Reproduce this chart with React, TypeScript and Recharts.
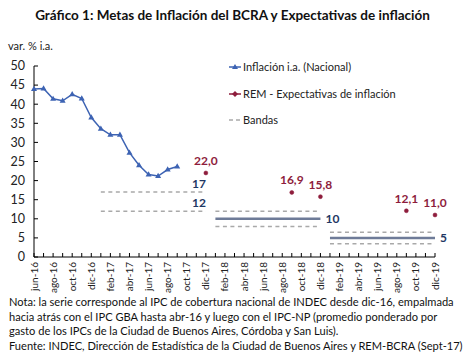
import { ComposedChart, Line, XAxis, YAxis, LabelList } from "recharts";

const months = [
  "jun-16", "jul-16", "ago-16", "sep-16", "oct-16", "nov-16", "dic-16",
  "ene-17", "feb-17", "mar-17", "abr-17", "may-17", "jun-17", "jul-17", "ago-17", "sep-17", "oct-17", "nov-17", "dic-17",
  "ene-18", "feb-18", "mar-18", "abr-18", "may-18", "jun-18", "jul-18", "ago-18", "sep-18", "oct-18", "nov-18", "dic-18",
  "ene-19", "feb-19", "mar-19", "abr-19", "may-19", "jun-19", "jul-19", "ago-19", "sep-19", "oct-19", "nov-19", "dic-19",
];

// inflación i.a. nacional, jun-16 .. sep-17
const inflation = [44.0, 44.1, 41.4, 40.9, 42.6, 41.5, 36.5, 33.6, 32.0, 32.0, 27.3, 24.0, 21.6, 21.2, 22.9, 23.7];

const remMonths = ["dic-17", "sep-18", "dic-18", "sep-19", "dic-19"];
const remValues = [22.0, 16.9, 15.8, 12.1, 11.0];

const bandYears = ["17", "18", "19"];
const bandLow = [12, 8, 3.5];
const bandHigh = [17, 12, 6.5];
const bandMid = [null, 10, 5];

const yTicks = [0, 5, 10, 15, 20, 25, 30, 35, 40, 45, 50];

const BLUE = "#3d63b3";
const RED = "#8e1d3c";
const NAVY = "#1f3864";
const BAND = "#a9a9a9";
const MID = "#6e7b98";

const data = months.map((m, i) => {
  const row: Record<string, any> = { month: m, inflation: i < inflation.length ? inflation[i] : null };
  const r = remMonths.indexOf(m);
  row.rem = r >= 0 ? remValues[r] : null;
  bandYears.forEach((yr, k) => {
    if (m.endsWith("-" + yr)) {
      row["lo" + k] = bandLow[k];
      row["hi" + k] = bandHigh[k];
      if (bandMid[k] != null) row["mid" + k] = bandMid[k];
    }
  });
  return row;
});

const lastIdx = bandYears.map((yr) => months.map((m) => m.endsWith("-" + yr)).lastIndexOf(true));

const Triangle = (props: any) => {
  const { cx, cy, fill } = props;
  if (cx == null || cy == null || props.value == null) return null;
  return <path d={`M${cx},${cy - 3.2} L${cx + 3},${cy + 2} L${cx - 3},${cy + 2} Z`} fill={fill || BLUE} />;
};

const XTick = (props: any) => {
  const { x, y, payload, index } = props;
  return (
    <g>
      <line x1={x} x2={x} y1={y} y2={y - 4} stroke="#000" />
      {index % 2 === 0 && (
        <text
          x={x}
          y={y + 5}
          transform={`rotate(-90 ${x} ${y + 5})`}
          textAnchor="end"
          dy="0.35em"
          fontSize={10}
          fill="#222"
        >
          {payload.value}
        </text>
      )}
    </g>
  );
};

const YTick = (props: any) => {
  const { x, y, payload } = props;
  return (
    <g>
      <line x1={x} x2={x + 4} y1={y} y2={y} stroke="#000" />
      <text x={x - 9} y={y} dy="0.35em" textAnchor="end" fontSize={12.5} fill="#222">
        {payload.value}
      </text>
    </g>
  );
};

const endLabel = (k: number, text: string, side: "above" | "right") => (props: any) => {
  const { x, y, index } = props;
  if (index !== lastIdx[k]) return null;
  if (side === "above")
    return (
      <text x={x} y={y - 4} textAnchor="end" fontSize={12} fontWeight="bold" fill={NAVY}>
        {text}
      </text>
    );
  return (
    <text x={x + 5} y={y} dy="0.35em" textAnchor="start" fontSize={12} fontWeight="bold" fill={NAVY}>
      {text}
    </text>
  );
};

const LegendBox = () => (
  <div style={{ fontSize: 11, color: "#222", lineHeight: "14px" }}>
    <div style={{ display: "flex", alignItems: "center", height: 14 }}>
      <svg width={14} height={10}>
        <line x1={0} x2={12} y1={5} y2={5} stroke={BLUE} strokeWidth={1.5} />
        <path d="M6,2 L9,7 L3,7 Z" fill={BLUE} />
      </svg>
      <span>Inflación i.a. (Nacional)</span>
    </div>
    <div style={{ display: "flex", alignItems: "center", height: 14, marginTop: 12.5 }}>
      <svg width={14} height={10}>
        <line x1={0} x2={12} y1={5} y2={5} stroke={RED} strokeWidth={1.5} />
        <path d="M6,2 L9,5 L6,8 L3,5 Z" fill={RED} />
      </svg>
      <span>REM - Expectativas de inflación</span>
    </div>
    <div style={{ display: "flex", alignItems: "center", height: 14, marginTop: 12.5 }}>
      <svg width={14} height={10}>
        <line x1={0} x2={12} y1={5} y2={5} stroke={BAND} strokeWidth={1.5} strokeDasharray="4 3" />
      </svg>
      <span>Bandas</span>
    </div>
  </div>
);

export default function App() {
  return (
    <div
      style={{
        position: "absolute",
        left: 0,
        top: 0,
        width: 465,
        height: 358,
        background: "#fff",
        fontFamily: "Lato, 'Open Sans', sans-serif",
        color: "#111",
        overflow: "hidden",
      }}
    >
      <div style={{ position: "absolute", top: 7, left: 0, width: 465, textAlign: "center", fontWeight: "bold", fontSize: 13.5 }}>
        Gráfico 1: Metas de Inflación del BCRA y Expectativas de inflación
      </div>
      <div style={{ position: "absolute", top: 39, left: 8, fontSize: 11, color: "#222" }}>var. % i.a.</div>

      <div style={{ position: "absolute", top: 0, left: 0 }}>
        <ComposedChart width={465} height={300} data={data} margin={{ top: 66, right: 30, bottom: 0, left: 0 }}>
          <XAxis
            dataKey="month"
            scale="point"
            padding={{ left: 0, right: 0 }}
            interval={0}
            height={43}
            tickSize={0}
            tickMargin={0}
            tickLine={false}
            axisLine={{ stroke: "#000" }}
            tick={<XTick />}
          />
          <YAxis
            domain={[0, 50]}
            ticks={yTicks}
            width={34}
            tickSize={0}
            tickMargin={0}
            tickLine={false}
            axisLine={{ stroke: "#000" }}
            tick={<YTick />}
            interval={0}
          />
          {bandYears.map((yr, k) => [
            <Line
              key={"hi" + k}
              dataKey={"hi" + k}
              stroke={BAND}
              strokeWidth={1.5}
              strokeDasharray="4 3.5"
              dot={false}
              isAnimationActive={false}
              legendType="none"
            >
              {k === 0 && <LabelList dataKey={"hi" + k} content={endLabel(k, String(bandHigh[k]), "above")} />}
            </Line>,
            <Line
              key={"lo" + k}
              dataKey={"lo" + k}
              stroke={BAND}
              strokeWidth={1.5}
              strokeDasharray="4 3.5"
              dot={false}
              isAnimationActive={false}
              legendType="none"
            >
              {k === 0 && <LabelList dataKey={"lo" + k} content={endLabel(k, String(bandLow[k]), "above")} />}
            </Line>,
            bandMid[k] != null && (
              <Line
                key={"mid" + k}
                dataKey={"mid" + k}
                stroke={MID}
                strokeWidth={2.5}
                dot={false}
                isAnimationActive={false}
                legendType="none"
              >
                <LabelList dataKey={"mid" + k} content={endLabel(k, String(bandMid[k]), "right")} />
              </Line>
            ),
          ])}
          <Line
            dataKey="inflation"
            stroke={BLUE}
            strokeWidth={1.5}
            dot={<Triangle fill={BLUE} />}
            isAnimationActive={false}
          />
          <Line
            dataKey="rem"
            stroke="none"
            dot={{ r: 2, fill: RED, stroke: RED, strokeWidth: 0.5 }}
            isAnimationActive={false}
          >
            <LabelList
              dataKey="rem"
              position="top"
              offset={8}
              fontSize={12}
              fontWeight="bold"
              fill={RED}
              formatter={(v: any) => (v == null ? "" : Number(v).toFixed(1).replace(".", ","))}
            />
          </Line>
        </ComposedChart>
      </div>

      <div style={{ position: "absolute", top: 60, left: 229 }}>
        <LegendBox />
      </div>

      <div style={{ position: "absolute", top: 295, left: 9, fontSize: 11.1, lineHeight: "14.6px", color: "#111", whiteSpace: "nowrap" }}>
        <div>Nota: la serie corresponde al IPC de cobertura nacional de INDEC desde dic-16, empalmada</div>
        <div>hacia atrás con el IPC GBA hasta abr-16 y luego con el IPC-NP (promedio ponderado por</div>
        <div>gasto de los IPCs de la Ciudad de Buenos Aires, Córdoba y San Luis).</div>
        <div>Fuente: INDEC, Dirección de Estadística de la Ciudad de Buenos Aires y REM-BCRA (Sept-17)</div>
      </div>
    </div>
  );
}
